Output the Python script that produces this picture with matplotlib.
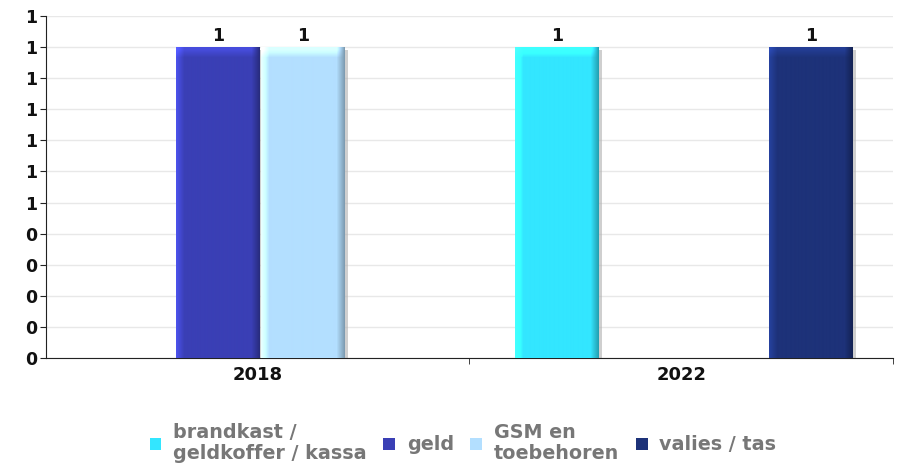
import numpy as np
import matplotlib.pyplot as plt
from matplotlib.colors import to_rgb
from matplotlib.patches import Rectangle, Patch

years = ["2018", "2022"]
series = ["brandkast /\ngeldkoffer / kassa", "geld", "GSM en\ntoebehoren", "valies / tas"]
counts = {
    "brandkast /\ngeldkoffer / kassa": [0, 1],
    "geld": [1, 0],
    "GSM en\ntoebehoren": [1, 0],
    "valies / tas": [0, 1],
}
colors = ["#33E6FF", "#3A3FB5", "#B3DFFF", "#1D3279"]
yticks = [0, 0.1, 0.2, 0.3, 0.4, 0.5, 0.6, 0.7, 0.8, 0.9, 1.0, 1.1]


def shaded(color, w=85, h=311):
    # bevelled bar face: light left edge and top, dark right edge
    base = np.array(to_rgb(color))
    scale = np.ones((h, w))
    cols = np.arange(w)
    left = np.clip(1 - cols / 8.0, 0, 1)
    right = np.clip((cols - (w - 9)) / 8.0, 0, 1)
    scale *= (1 + 0.3 * left - 0.3 * right)[None, :]
    rows = np.arange(h)
    top = np.clip(1 - (rows - 2) / 8.0, 0, 1)
    scale += 0.22 * top[:, None] * (1 - right[None, :])
    return np.clip(base[None, None, :] * scale[:, :, None], 0, 1)


fig = plt.figure(figsize=(9.03, 4.68), dpi=100)
ax = fig.add_axes([46 / 903, 1 - 358 / 468, 847 / 903, 342 / 468])

x = np.arange(len(years))
width = 0.197
for i, (name, col) in enumerate(zip(series, colors)):
    vals = counts[name]
    # faces sit a little to the right of the slot centre (3D depth offset)
    pos = x + (i - 1.5) * 0.2 + 0.006
    bars = ax.bar(pos, vals, width=width, color=col, label=name, zorder=3)
    for b, v in zip(bars, vals):
        if v == 0:
            b.set_visible(False)
            continue
        x0 = b.get_x()
        # soft drop shadow on the right
        ax.add_patch(Rectangle((x0 + width, 0), 0.008, v * 0.99,
                               color="#b0b0b0", alpha=0.6, lw=0, zorder=2))
        im = ax.imshow(shaded(col), extent=(x0, x0 + width, 0, v),
                       aspect="auto", zorder=4, interpolation="bilinear")
        im.set_clip_path(b)
        ax.text(x0 + width / 2, v + 0.008, f"{v}", ha="center", va="bottom",
                fontsize=12.5, fontweight="bold", color="#111111", zorder=5)

ax.set_xlim(-0.5, 1.5)
ax.set_ylim(0, 1.1)
ax.set_yticks(yticks)
ax.set_yticklabels([str(int(np.floor(t + 0.5 + 1e-9))) for t in yticks],
                   fontsize=12.5, fontweight="bold", color="#111111")
ax.set_xticks(x)
ax.set_xticklabels(years, fontsize=13, fontweight="bold", color="#111111")
ax.set_xticks([0.5, 1.5], minor=True)
ax.tick_params(axis="x", which="major", length=0, pad=6)
ax.tick_params(axis="x", which="minor", length=4, direction="out", color="#222222")
ax.tick_params(axis="y", length=4, direction="out", pad=2, color="#222222")
ax.grid(axis="y", color="#e8e8e8", lw=1, zorder=0)
ax.set_axisbelow(True)
for s in ("top", "right"):
    ax.spines[s].set_visible(False)
for s in ("left", "bottom"):
    ax.spines[s].set_color("#222222")

handles = [Patch(facecolor=c, edgecolor="none") for c in colors]
leg = fig.legend(handles, series, loc="center", bbox_to_anchor=(463 / 903, 1 - 443 / 468),
                 ncol=4, frameon=False, handlelength=0.62, handleheight=0.62,
                 handletextpad=0.62, columnspacing=0.85, labelspacing=0.2,
                 prop={"weight": "bold", "size": 13.8})
for t in leg.get_texts():
    t.set_color("#777777")
    t.set_linespacing(1.15)

fig.savefig("out.png", dpi=100)
